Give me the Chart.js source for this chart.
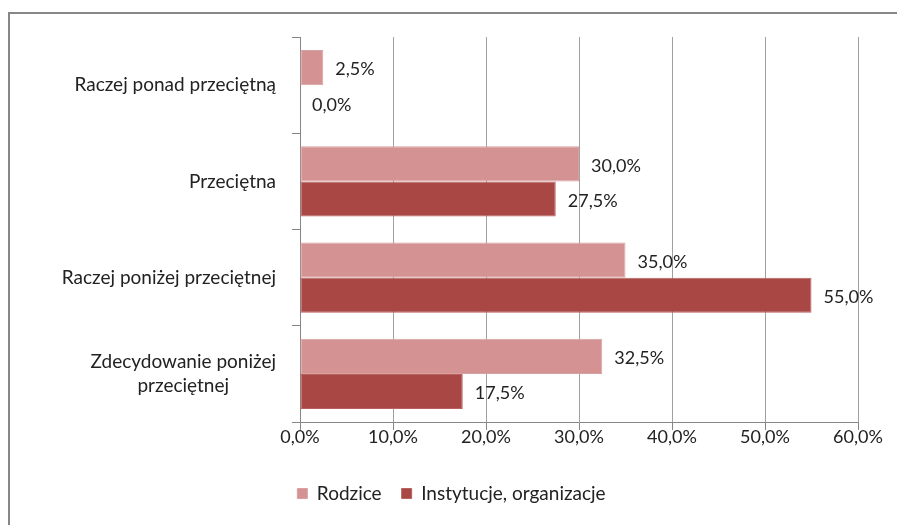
<!DOCTYPE html>
<html>
<head>
<meta charset="utf-8">
<script src="https://cdn.jsdelivr.net/npm/chart.js@4.4.1/dist/chart.umd.min.js"></script>
<style>
  html, body { margin: 0; padding: 0; background: #ffffff; }
  #wrap { width: 897px; height: 525px; position: relative; }
</style>
</head>
<body>
<div id="wrap"><canvas id="c" width="897" height="525"></canvas></div>
<script>
const categories = [
  ['Raczej ponad przeciętną'],
  ['Przeciętna'],
  ['Raczej poniżej przeciętnej'],
  ['Zdecydowanie poniżej', 'przeciętnej']
];
const seriesNames = ['Rodzice', 'Instytucje, organizacje'];
const rodzice = [2.5, 30.0, 35.0, 32.5];
const instytucje = [0.0, 27.5, 55.0, 17.5];
const xMin = 0, xMax = 60, xStep = 10;

const FONT = 'Lato, "Open Sans", sans-serif';
const TEXT = '#222222';

function fmt(v) { return v.toFixed(1).replace('.', ',') + '%'; }

const framePlugin = {
  id: 'frame',
  afterLayout(chart) {
    const lg = chart.legend;
    if (lg) { lg.left = 0; lg.right = chart.width + 6; }
  },
  beforeDraw(chart) {
    const ctx = chart.ctx;
    ctx.save();
    ctx.fillStyle = '#ffffff';
    ctx.fillRect(0, 0, chart.width, chart.height);
    ctx.strokeStyle = '#878787';
    ctx.lineWidth = 2;
    ctx.strokeRect(9, 13, chart.width + 20, chart.height + 20);
    ctx.restore();
  }
};

const catLabelPlugin = {
  id: 'catLabels',
  afterDraw(chart) {
    const ctx = chart.ctx;
    const y = chart.scales.y;
    ctx.save();
    ctx.font = '19px ' + FONT;
    ctx.fillStyle = TEXT;
    ctx.textBaseline = 'middle';
    ctx.textAlign = 'center';
    const right = 276;
    const lh = 24;
    categories.forEach((lines, i) => {
      const cy = y.getPixelForValue(i);
      const w = Math.max(...lines.map(l => ctx.measureText(l).width));
      const cx = right - w / 2;
      const top = cy - (lines.length - 1) * lh / 2;
      lines.forEach((l, j) => ctx.fillText(l, cx, top + j * lh));
    });
    ctx.restore();
  }
};

const valueLabelPlugin = {
  id: 'valueLabels',
  afterDatasetsDraw(chart) {
    const ctx = chart.ctx;
    ctx.save();
    ctx.font = '18px ' + FONT;
    ctx.fillStyle = TEXT;
    ctx.textBaseline = 'middle';
    ctx.textAlign = 'left';
    chart.data.datasets.forEach((ds, di) => {
      const meta = chart.getDatasetMeta(di);
      meta.data.forEach((bar, i) => {
        ctx.fillText(fmt(ds.data[i]), bar.x + 12, bar.y + 2);
      });
    });
    ctx.restore();
  }
};

new Chart(document.getElementById('c'), {
  type: 'bar',
  data: {
    labels: categories.map(l => l.join(' ')),
    datasets: [
      { label: seriesNames[0], data: rodzice, backgroundColor: '#D49392', borderColor: '#D9A2A1', borderWidth: 1, borderSkipped: false },
      { label: seriesNames[1], data: instytucje, backgroundColor: '#A94745', borderColor: '#B8615F', borderWidth: 1, borderSkipped: false }
    ]
  },
  options: {
    indexAxis: 'y',
    responsive: false,
    animation: false,
    devicePixelRatio: 1,
    layout: { padding: { left: 0, right: 39, top: 37, bottom: 12 } },
    datasets: { bar: { categoryPercentage: 0.73, barPercentage: 1.0 } },
    scales: {
      x: {
        min: xMin, max: xMax,
        ticks: {
          stepSize: xStep,
          callback: v => fmt(v),
          font: { family: FONT, size: 18 },
          color: TEXT,
          padding: -4
        },
        grid: { color: '#a0a0a0', lineWidth: 1, tickLength: 8, tickColor: '#868686' },
        border: { color: '#868686', width: 1 },
        afterFit(scale) { scale.height = 42; }
      },
      y: {
        ticks: { display: false },
        grid: { drawOnChartArea: false, tickLength: 8, color: '#868686', offset: true },
        border: { color: '#868686', width: 1 },
        afterFit(scale) { scale.width = 300; }
      }
    },
    plugins: {
      legend: {
        position: 'bottom',
        labels: {
          boxWidth: 10, boxHeight: 10,
          font: { family: FONT, size: 19 },
          color: TEXT,
          padding: 20
        }
      },
      tooltip: { enabled: false }
    }
  },
  plugins: [framePlugin, catLabelPlugin, valueLabelPlugin]
});
</script>
</body>
</html>
